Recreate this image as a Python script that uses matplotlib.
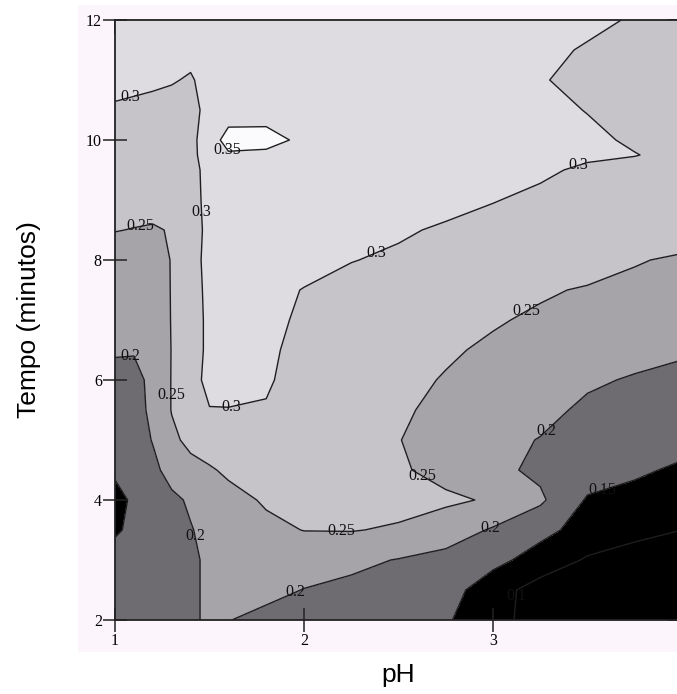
import numpy as np
import matplotlib
matplotlib.use('Agg')
import matplotlib.pyplot as plt
from matplotlib.patches import Rectangle

# grid (pH across, tempo up)
ph = [1.0, 1.1, 1.2, 1.3, 1.4, 1.5, 1.6, 1.8, 2.0, 2.25, 2.5, 2.75, 3.0, 3.25, 3.5, 3.75, 4.0]
tempo = [2, 2.5, 3, 3.5, 4, 4.5, 5, 5.5, 6, 6.5, 7, 7.5, 8, 8.5, 9, 9.5, 9.75, 10, 10.5, 11, 11.5, 12]

# one row per tempo value, one column per pH value
resposta = [
	[.172, .175, .180, .188, .197, .203, .201, .190, .182, .175, .168, .155, .120, .075, .065, .060, .055],
	[.170, .172, .178, .186, .195, .205, .212, .210, .199, .190, .180, .172, .120, .080, .070, .065, .060],
	[.165, .168, .175, .185, .195, .205, .212, .220, .218, .210, .198, .185, .165, .128, .095, .085, .080],
	[.145, .158, .172, .188, .198, .210, .222, .240, .251, .252, .245, .225, .195, .165, .130, .110, .100],
	[.140, .155, .175, .192, .205, .220, .235, .255, .265, .270, .265, .258, .245, .208, .145, .130, .120],
	[.155, .175, .190, .215, .235, .245, .258, .270, .275, .265, .256, .235, .212, .190, .175, .160, .140],
	[.175, .180, .202, .240, .262, .275, .285, .290, .285, .270, .251, .235, .215, .198, .185, .178, .172],
	[.180, .186, .208, .252, .280, .298, .299, .297, .285, .272, .254, .243, .232, .215, .190, .185, .178],
	[.185, .188, .210, .252, .280, .315, .310, .305, .282, .268, .258, .248, .238, .225, .208, .195, .190],
	[.205, .203, .225, .251, .275, .312, .310, .306, .290, .272, .264, .254, .245, .237, .228, .219, .205],
	[.228, .230, .235, .251, .275, .312, .310, .308, .295, .278, .270, .262, .253, .245, .238, .232, .226],
	[.232, .234, .238, .251, .275, .315, .310, .308, .299, .290, .283, .276, .268, .254, .247, .240, .234],
	[.235, .237, .240, .251, .275, .320, .318, .318, .310, .301, .295, .288, .281, .274, .266, .253, .244],
	[.251, .249, .247, .252, .275, .315, .320, .322, .320, .315, .304, .296, .292, .287, .282, .277, .272],
	[.262, .262, .262, .262, .278, .318, .325, .330, .330, .325, .318, .310, .301, .295, .290, .285, .280],
	[.270, .268, .266, .265, .280, .320, .330, .335, .335, .330, .325, .318, .310, .304, .296, .290, .285],
	[.275, .273, .270, .269, .283, .330, .345, .345, .340, .333, .328, .322, .315, .309, .304, .301, .292],
	[.280, .278, .275, .273, .285, .330, .365, .358, .345, .335, .330, .325, .318, .312, .306, .296, .290],
	[.298, .295, .290, .285, .288, .312, .330, .340, .340, .335, .328, .322, .315, .308, .299, .290, .283],
	[.305, .306, .306, .303, .296, .315, .330, .340, .335, .330, .325, .318, .310, .302, .292, .285, .280],
	[.310, .310, .310, .310, .312, .318, .325, .330, .330, .328, .325, .320, .312, .305, .298, .288, .282],
	[.315, .318, .320, .322, .324, .326, .328, .330, .330, .328, .325, .320, .315, .310, .305, .298, .290],
]

niveis = [0.1, 0.15, 0.2, 0.25, 0.3, 0.35]
faixas = [0.0, 0.15, 0.2, 0.25, 0.3, 0.35, 1.0]
cores = ['#000000', '#6f6c71', '#a6a3a9', '#c6c4c9', '#dedce1', '#fbfafc']

# where the labels sit on each line
rotulos = {
	0.35: [(1.60, 9.85)],
	0.3: [(1.08, 10.70), (1.44, 8.80), (2.38, 8.12), (3.45, 9.58), (1.62, 5.50)],
	0.25: [(1.13, 8.60), (3.17, 7.20), (1.31, 5.75), (2.62, 4.35), (2.20, 3.47)],
	0.2: [(1.08, 6.40), (3.26, 5.22), (1.43, 3.40), (2.98, 3.60), (1.95, 2.50)],
	0.15: [(3.60, 3.97)],
	0.1: [(2.95, 2.45)],
}

x_ticks = [1, 2, 3, 4]
y_ticks = [2, 4, 6, 8, 10, 12]

plt.rcParams['font.family'] = ['Liberation Serif', 'DejaVu Serif']

W, H = 677, 694
fig = plt.figure(figsize=(W / 100, H / 100), dpi=100)
fig.add_artist(Rectangle((78 / W, 42 / H), (W - 78) / W, 647 / H, transform=fig.transFigure,
	facecolor='#fcf6fc', edgecolor='none', zorder=-5))

ax = fig.add_axes([115 / W, 74 / H, 567 / W, 600 / H])
Z = np.array(resposta)
ax.contourf(ph, tempo, Z, levels=faixas, colors=cores)

textos = []
for lev in niveis:
	cs = ax.contour(ph, tempo, Z, levels=[lev], colors='#1e1e1e', linewidths=1.0)
	textos += list(ax.clabel(cs, manual=rotulos[lev], inline=False,
		fmt=lambda v: f'{v:g}', fontsize=11.5, colors='#111111'))
for t in textos:
	t.set_rotation(0)

ax.set_xlim(1, 4)
ax.set_ylim(2, 12)
ax.set_xticks(x_ticks)
ax.set_yticks(y_ticks)
ax.tick_params(direction='inout', length=17, width=1.1, labelsize=11.5, pad=1, color='#222222')
for sp in ax.spines.values():
	sp.set_linewidth(1.3)
	sp.set_color('#222222')

top = ax.secondary_xaxis('top')
top.set_xticks(x_ticks)
top.tick_params(direction='in', length=10, width=1.1, labeltop=False, labelbottom=False)
right = ax.secondary_yaxis('right')
right.set_yticks(y_ticks)
right.tick_params(direction='in', length=10, width=1.1, labelright=False, labelleft=False)

ax.set_xlabel('pH', family=['Liberation Sans', 'DejaVu Sans'], fontsize=19)
ax.xaxis.set_label_coords(0.5, -0.072)
ax.set_ylabel('Tempo (minutos)', family=['Liberation Sans', 'DejaVu Sans'], fontsize=19)
ax.yaxis.set_label_coords(-0.1305, 0.5)

fig.savefig('out.png', dpi=100)
